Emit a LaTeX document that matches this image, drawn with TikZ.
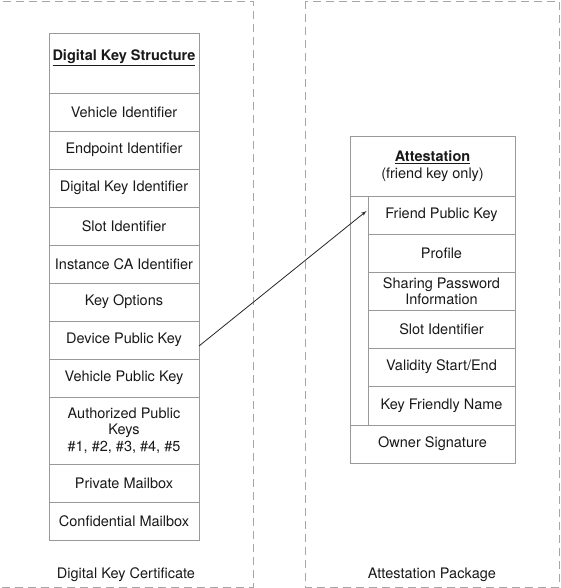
\documentclass[tikz,border=0pt]{standalone}
\usepackage{fontspec}
\setmainfont{TeX Gyre Heros}
\usetikzlibrary{arrows,positioning,calc}

\begin{document}
\begin{tikzpicture}
[x=1pt,y=-1pt,node distance=0pt,
    cell/.style={draw=black!40,line width=.8pt,shape=rectangle,outer sep=0pt,
    inner sep=1pt,minimum height=38pt,align=center,text=black!90,
    font=\fontsize{14.5}{16.5}\selectfont},
    lcell/.style={cell,minimum width=150pt},
    rcell/.style={cell,minimum width=147pt},
    panel/.style={draw=black!35,dash pattern=on 8pt off 5pt,line width=.8pt},
    paneltitle/.style={font=\fontsize{14.5}{16.5}\selectfont,text=black!90,inner sep=0pt},
    myedge/.style={>=latex',shorten >=.0pt,shorten <=.0pt,line width=.8pt,draw=black!85}]
\useasboundingbox (0,0) rectangle (560,588);
%%%%%%%%%%
%% panels
\draw[panel] (-10,1) rectangle (253,587);
\draw[panel] (305,1) rectangle (559,587);
\node (dkc) [paneltitle] at (126,575) {Digital Key Certificate};
\node (atp) [paneltitle] at (432,575) {Attestation Package};
%% digital key structure
\node (dks) [lcell,minimum height=60pt,text height=8pt,text depth=12pt] at (124,63)
  {\underline{\textbf{Digital Key Structure}}};
\node (vid) [lcell,below=of dks] {Vehicle Identifier};
\node (eid) [lcell,below=of vid] {Endpoint Identifier};
\node (dkid) [lcell,below=of eid] {Digital Key Identifier};
\node (sid) [lcell,below=of dkid] {Slot Identifier};
\node (icid) [lcell,below=of sid] {Instance CA Identifier};
\node (kopt) [lcell,below=of icid] {Key Options};
\node (dpk) [lcell,below=of kopt] {Device Public Key};
\node (vpk) [lcell,below=of dpk] {Vehicle Public Key};
\node (apk) [lcell,below=of vpk,minimum height=67pt] {Authorized Public\\Keys\\\#1, \#2, \#3, \#4, \#5};
\node (pmb) [lcell,below=of apk] {Private Mailbox};
\node (cmb) [lcell,below=of pmb] {Confidential Mailbox};
%% attestation
\node (att) [cell,minimum width=165pt,minimum height=60pt] at (432.5,166)
  {\underline{\textbf{Attestation}}\\(friend key only)};
\node (strip) [cell,minimum width=18pt,minimum height=229pt,anchor=north west] at (att.south west) {};
\node (fpk) [rcell,anchor=north west] at (strip.north east) {Friend Public Key};
\node (prof) [rcell,below=of fpk] {Profile};
\node (spi) [rcell,below=of prof] {Sharing Password\\Information};
\node (asid) [rcell,below=of spi] {Slot Identifier};
\node (vse) [rcell,below=of asid] {Validity Start/End};
\node (kfn) [rcell,below=of vse,minimum height=39pt] {Key Friendly Name};
\node (osig) [cell,minimum width=165pt,anchor=north west] at (strip.south west) {Owner Signature};
%% edges
\draw[myedge,->] ([yshift=-6pt]dpk.east) -- ([xshift=-1.5pt,yshift=4pt]fpk.west);
\end{tikzpicture}
\end{document}
